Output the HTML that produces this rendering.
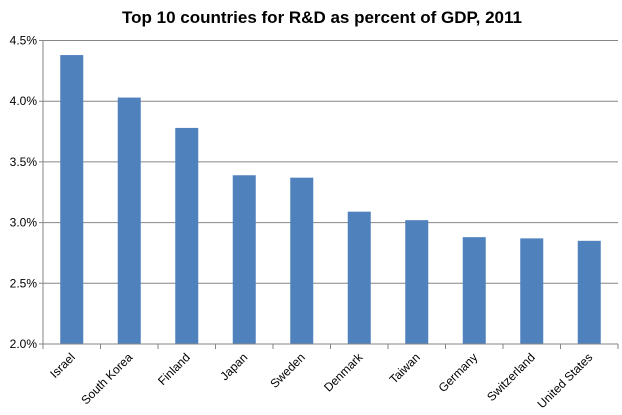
<!DOCTYPE html>
<html><head><meta charset="utf-8"><style>
body{margin:0;background:#fff;}
svg{display:block;font-family:"Liberation Sans",Arial,sans-serif;}
</style></head><body>
<svg id="c" width="622" height="415">
<text x="322" y="23" text-anchor="middle" font-size="17" font-weight="bold" fill="#000">Top 10 countries for R&amp;D as percent of GDP, 2011</text>
<g id="grid"></g><g id="bars"></g><g id="axes"></g>
</svg>
<script>
const categories=["Israel","South Korea","Finland","Japan","Sweden","Denmark","Taiwan","Germany","Switzerland","United States"];
const values=[4.38,4.03,3.78,3.39,3.37,3.09,3.02,2.88,2.87,2.85];
const ticks=[2.0,2.5,3.0,3.5,4.0,4.5];
const tickLabels=["2.0%","2.5%","3.0%","3.5%","4.0%","4.5%"];
const NS="http://www.w3.org/2000/svg";
const X0=43,X1=618,Y0=344,Y1=40.5,vmin=2,vmax=4.5;
const y=v=>Y0-(v-vmin)/(vmax-vmin)*(Y0-Y1);
const bw=(X1-X0)/categories.length;
const x=i=>X0+bw*i;
function mk(tag,a,parent){const e=document.createElementNS(NS,tag);for(const k in a)e.setAttribute(k,a[k]);document.getElementById(parent).appendChild(e);return e;}
ticks.forEach((t,i)=>{
 const l=mk("line",{x1:X0-4,x2:X1,y1:y(t),y2:y(t),stroke:"#868686","stroke-width":1},"grid");
 
 
 const tx=mk("text",{x:X0-6,y:y(t)+4,"text-anchor":"end","font-size":12,fill:"#000"},"axes");
 tx.textContent=tickLabels[i];
 
 
});
values.forEach((v,i)=>{
 const cx=x(i)+bw/2;
 const r=mk("rect",{x:cx-11.5,y:y(v),width:23,height:Y0-y(v),fill:"#4f81bd"},"bars");
 
 
 const t=mk("text",{x:0,y:0,"text-anchor":"end","font-size":12,fill:"#000",transform:`translate(${cx+4},${Y0+14}) rotate(-45)`},"axes");
 t.textContent=categories[i];
 
 
});
for(let i=0;i<=categories.length;i++){
 const tk=mk("line",{x1:x(i),x2:x(i),y1:Y0,y2:Y0+5,stroke:"#868686"},"axes");
 
 
}
const ya=mk("line",{x1:X0,x2:X0,y1:Y1,y2:Y0,stroke:"#868686"},"axes");


const xa=mk("line",{x1:X0,x2:X1,y1:Y0,y2:Y0,stroke:"#868686"},"axes");


</script>
</body></html>
